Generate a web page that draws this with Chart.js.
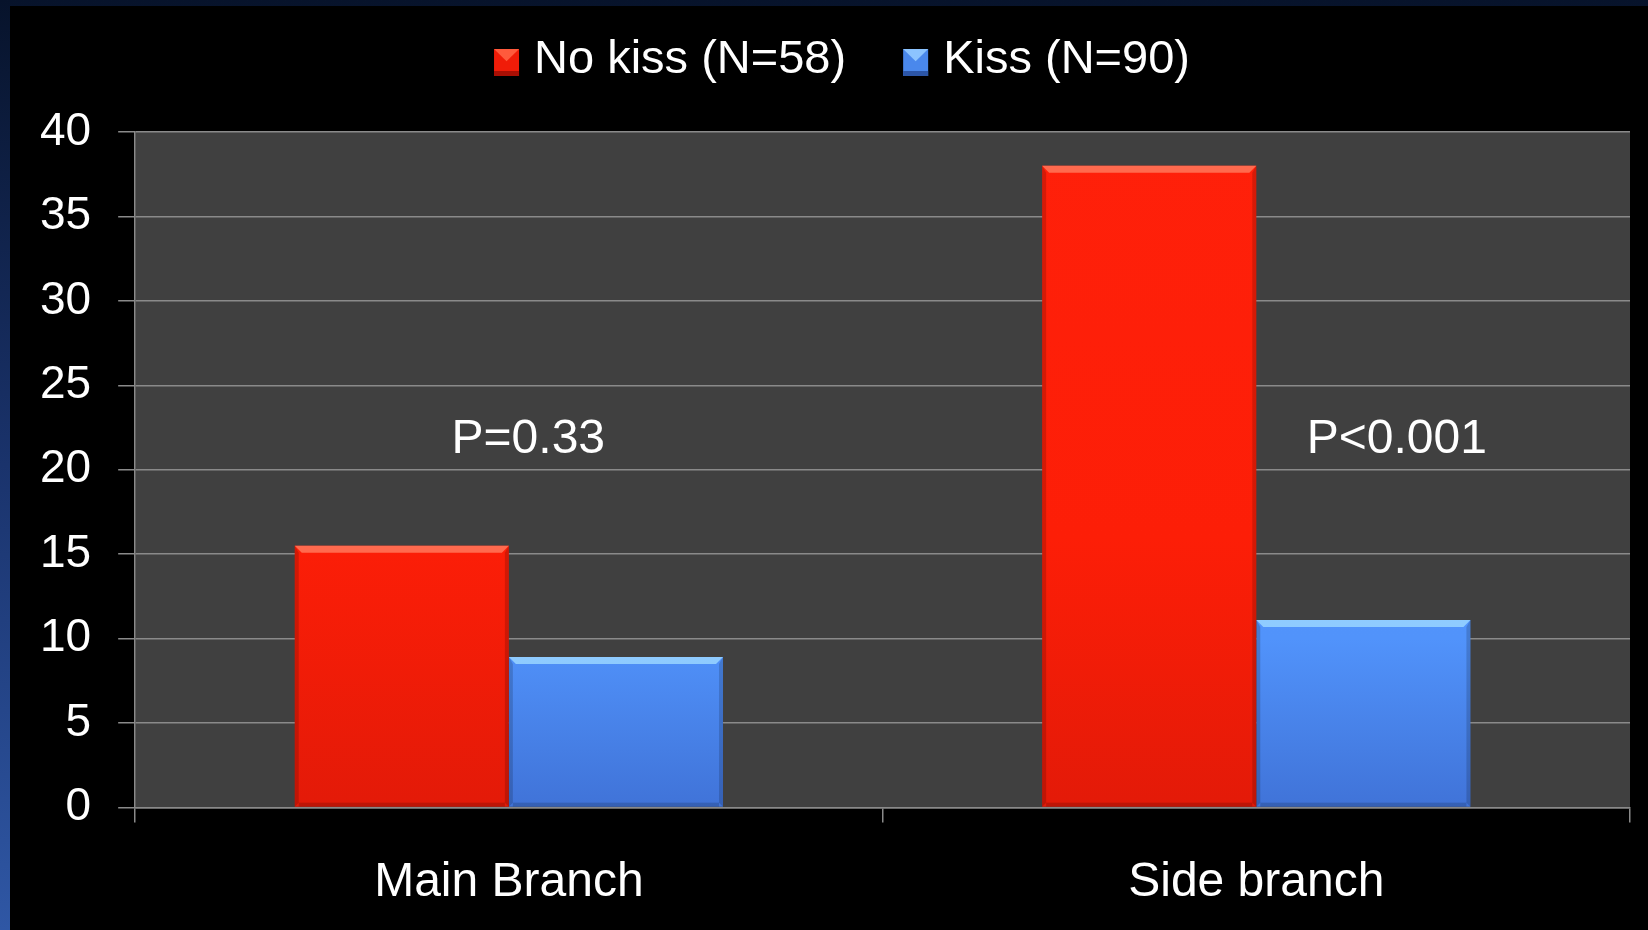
<!DOCTYPE html>
<html>
<head>
<meta charset="utf-8">
<title>No kiss vs Kiss</title>
<script src="https://cdn.jsdelivr.net/npm/chart.js@4.4.1/dist/chart.umd.min.js"></script>
<style>
  html, body { margin: 0; padding: 0; width: 1648px; height: 930px; overflow: hidden; }
  body { position: relative; background: linear-gradient(to bottom, #07132b 0%, #1a336c 50%, #2f57a5 100%); }
  #stage { position: absolute; left: 10px; top: 6px; width: 1638px; height: 924px; background: #000; overflow: hidden; }
  canvas { display: block; }
</style>
</head>
<body>
<div id="stage"><canvas id="chart" width="1638" height="944"></canvas></div>
<script>
/* 分岐別の比較棒グラフ */
const CATEGORIES = ["Main Branch", "Side branch"];
const SERIES_NAMES = ["No kiss (N=58)", "Kiss (N=90)"];
const NO_KISS = [15.5, 38];
const KISS = [8.9, 11.1];
const Y_MIN = 0, Y_MAX = 40, Y_STEP = 5;
const P_LABELS = ["P=0.33", "P<0.001"];
const P_LEVEL = [22, 22];

const FONT = '"Liberation Sans", Arial, sans-serif';
const GRID = "#8a8a8a";
const SOLID = ["#fb1e08", "#5090f8"];
const BEVEL = ["rgba(255,120,90,0.85)", "rgba(150,210,255,0.9)"];
const KEY = [
  { top: "#ff5a3c", mid: "#f01c08", low: "#a90f04" },
  { top: "#8cc4ff", mid: "#4a88ec", low: "#2c56a8" },
];

function barGradient(ctx, i) {
  const area = ctx.chart.chartArea;
  if (!area) return SOLID[i];
  const g = ctx.chart.ctx.createLinearGradient(0, area.top, 0, area.bottom);
  if (i === 0) {
    g.addColorStop(0, "#ff200a");
    g.addColorStop(0.6, "#fd1e07");
    g.addColorStop(1, "#e31a08");
  } else {
    g.addColorStop(0, "#5a9cff");
    g.addColorStop(0.75, "#5193fb");
    g.addColorStop(1, "#4073d8");
  }
  return g;
}

// プロット領域の灰色背景
const plotBg = {
  id: "plotBg",
  beforeDraw(chart) {
    const { ctx, chartArea: a } = chart;
    ctx.save();
    ctx.fillStyle = "#404040";
    ctx.fillRect(a.left, a.top, a.right - a.left, a.bottom - a.top);
    ctx.restore();
  },
};

// 棒の面取り風ハイライト
const bevel = {
  id: "bevel",
  afterDatasetsDraw(chart) {
    const ctx = chart.ctx;
    chart.data.datasets.forEach((ds, di) => {
      chart.getDatasetMeta(di).data.forEach((bar) => {
        const { x, y, base, width } = bar.getProps(["x", "y", "base", "width"], true);
        const l = x - width / 2, r = x + width / 2, b = 7;
        ctx.save();
        ctx.fillStyle = BEVEL[di];
        ctx.beginPath();
        ctx.moveTo(l, y); ctx.lineTo(r, y); ctx.lineTo(r - b, y + b); ctx.lineTo(l + b, y + b);
        ctx.closePath(); ctx.fill();
        ctx.fillStyle = "rgba(0,0,0,0.16)";
        ctx.beginPath();
        ctx.moveTo(r, y); ctx.lineTo(r, base); ctx.lineTo(r - 4, base - 4); ctx.lineTo(r - 4, y + b);
        ctx.closePath(); ctx.fill();
        ctx.beginPath();
        ctx.moveTo(l, y); ctx.lineTo(l, base); ctx.lineTo(l + 4, base - 4); ctx.lineTo(l + 4, y + b);
        ctx.closePath(); ctx.fill();
        ctx.fillRect(l + 4, base - 4, width - 8, 4);
        ctx.restore();
      });
    });
  },
};

// 凡例（立体風の四角＋系列名）
const keyLegend = {
  id: "keyLegend",
  afterDraw(chart, args, opts) {
    const ctx = chart.ctx;
    const names = chart.data.datasets.map((d) => d.label);
    ctx.save();
    ctx.font = `${opts.size}px ${FONT}`;
    const widths = names.map((n) => ctx.measureText(n).width);
    const total = widths.reduce((s, w) => s + opts.box + opts.gap + w, 0) + opts.spacing * (names.length - 1);
    let x = chart.width / 2 + opts.shift - total / 2;
    names.forEach((n, i) => {
      const k = KEY[i], bx = x, by = opts.baseline - opts.boxH + 3, w = opts.box, h = opts.boxH, e = 5;
      ctx.fillStyle = k.mid;
      ctx.fillRect(bx, by, w, h);
      ctx.fillStyle = k.top;
      ctx.beginPath();
      ctx.moveTo(bx, by); ctx.lineTo(bx + w, by); ctx.lineTo(bx + w / 2, by + h * 0.45);
      ctx.closePath(); ctx.fill();
      ctx.fillStyle = k.low;
      ctx.fillRect(bx, by + h - e, w, e);
      ctx.fillStyle = "#fff";
      ctx.textBaseline = "alphabetic";
      ctx.fillText(n, bx + w + opts.gap, opts.baseline);
      x += w + opts.gap + widths[i] + opts.spacing;
    });
    ctx.restore();
  },
};

// P値の注記（大文字の高さの中央を目盛り値に合わせる）
const pNotes = {
  id: "pNotes",
  afterDatasetsDraw(chart, args, opts) {
    const { ctx, scales: { x, y } } = chart;
    const catW = (x.right - x.left) / CATEGORIES.length;
    ctx.save();
    ctx.fillStyle = "#fff";
    ctx.font = `48px ${FONT}`;
    ctx.textAlign = "center";
    ctx.textBaseline = "alphabetic";
    P_LABELS.forEach((t, i) => {
      ctx.fillText(t, x.getPixelForValue(i) + opts.shift[i] * catW, y.getPixelForValue(P_LEVEL[i]) + 17);
    });
    ctx.restore();
  },
};

new Chart(document.getElementById("chart"), {
  type: "bar",
  data: {
    labels: CATEGORIES,
    datasets: [
      { label: SERIES_NAMES[0], data: NO_KISS, backgroundColor: (c) => barGradient(c, 0) },
      { label: SERIES_NAMES[1], data: KISS, backgroundColor: (c) => barGradient(c, 1) },
    ],
  },
  options: {
    responsive: false,
    animation: false,
    datasets: { bar: { barPercentage: 1, categoryPercentage: 0.573, borderWidth: 0 } },
    layout: { padding: { left: 3, right: 18, top: 126, bottom: 6 } },
    plugins: {
      tooltip: { enabled: false },
      legend: { display: false },
      keyLegend: { size: 47, box: 25, boxH: 27, gap: 15, spacing: 57, baseline: 67, shift: 13 },
      pNotes: { shift: [0.026, 0.188] },
    },
    scales: {
      x: {
        ticks: { color: "#fff", font: { family: FONT, size: 48 }, padding: 32 },
        grid: { offset: true, drawOnChartArea: false, drawTicks: true, tickLength: 15, color: GRID, lineWidth: 1.5 },
        border: { display: true, color: GRID, width: 1.5 },
      },
      y: {
        min: Y_MIN,
        max: Y_MAX,
        ticks: { stepSize: Y_STEP, color: "#fff", font: { family: FONT, size: 46 }, padding: 27 },
        grid: { color: GRID, lineWidth: 1.5, tickLength: 17 },
        border: { display: true, color: GRID, width: 1.5 },
      },
    },
  },
  plugins: [plotBg, bevel, keyLegend, pNotes],
});
</script>
</body>
</html>
